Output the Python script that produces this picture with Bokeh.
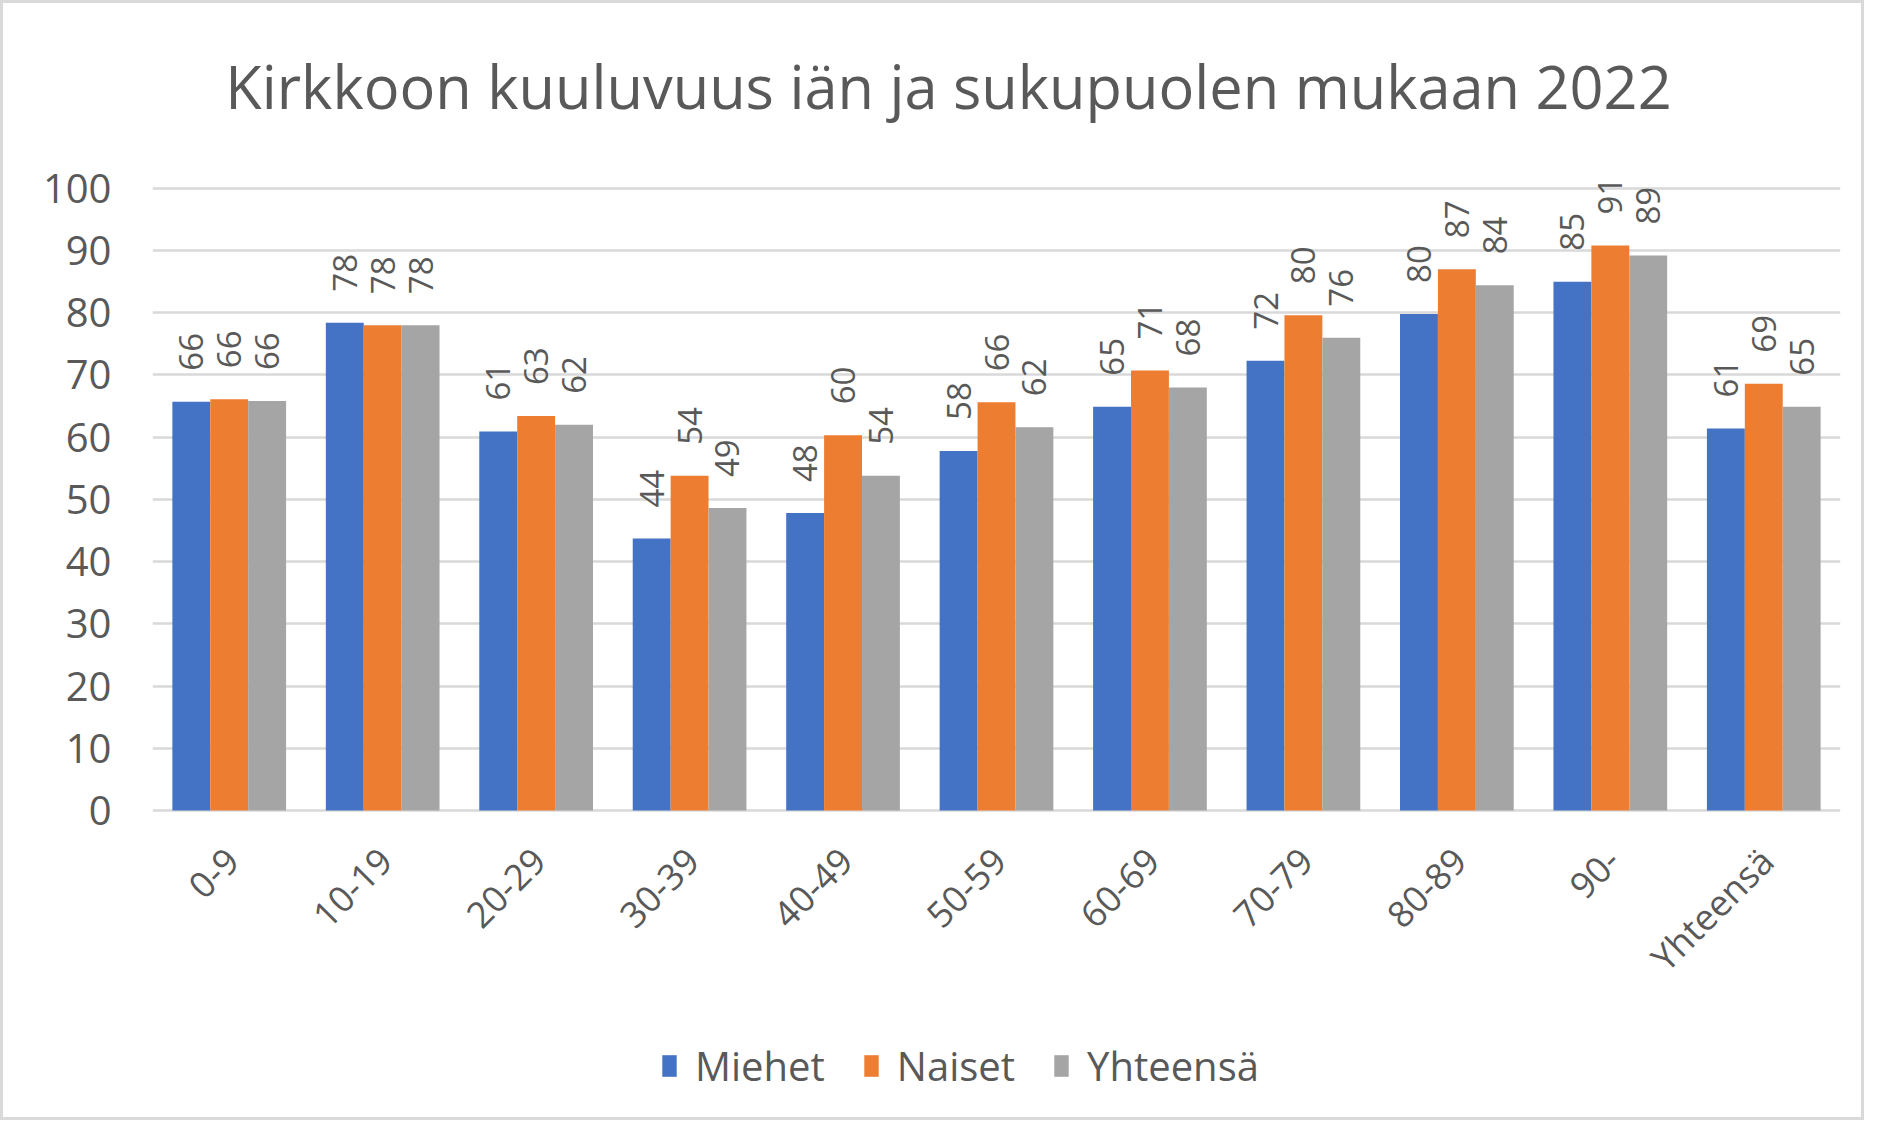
from math import pi
from bokeh.plotting import figure
from bokeh.models import (ColumnDataSource, FactorRange, Range1d, FixedTicker,
                          Label, Legend, LegendItem)
from bokeh.transform import dodge
from bokeh.core.properties import value
from bokeh.embed import file_html
from bokeh.resources import INLINE

# ---- data ----
categories = ["0-9", "10-19", "20-29", "30-39", "40-49", "50-59",
              "60-69", "70-79", "80-89", "90-", "Yhteensä"]
miehet = [65.7, 78.4, 60.9, 43.7, 47.8, 57.8, 64.9, 72.3, 79.8, 85.0, 61.4]
naiset = [66.1, 78.0, 63.4, 53.8, 60.3, 65.6, 70.7, 79.6, 87.0, 90.8, 68.6]
yhteensa = [65.8, 78.0, 62.0, 48.6, 53.8, 61.6, 68.0, 76.0, 84.4, 89.2, 64.9]
series_names = ["Miehet", "Naiset", "Yhteensä"]
y_ticks = [0, 10, 20, 30, 40, 50, 60, 70, 80, 90, 100]
title_text = "Kirkkoon kuuluvuus iän ja sukupuolen mukaan 2022"

colors = ["#4472C4", "#ED7D31", "#A5A5A5"]
TEXT = "#595959"
GRID = "#D9D9D9"
FONT = "Open Sans"

src = ColumnDataSource(dict(
    x=categories,
    m=miehet, n=naiset, t=yhteensa,
    m_lab=[str(round(v)) for v in miehet],
    n_lab=[str(round(v)) for v in naiset],
    t_lab=[str(round(v)) for v in yhteensa],
))

W, H = 1864, 1120
LEFT, RIGHT = 149, 27
p = figure(x_range=FactorRange(factors=categories, range_padding=0),
           y_range=Range1d(-50.3, 129.7),
           width=W, height=H, output_backend="svg",
           toolbar_location=None,
           min_border_left=LEFT, min_border_right=RIGHT,
           min_border_top=0, min_border_bottom=0)
p.outline_line_color = None
p.background_fill_color = "white"
p.border_fill_color = "white"

bw = 0.247
offsets = [-bw, 0.0, bw]
renderers = []
for col, lab, off, c in zip(["m", "n", "t"], ["m_lab", "n_lab", "t_lab"], offsets, colors):
    r = p.vbar(x=dodge("x", off, range=p.x_range), top=col, width=bw,
               source=src, fill_color=c, line_color=None)
    renderers.append(r)
    p.text(x=dodge("x", off, range=p.x_range), y=col, text=lab, source=src,
           angle=pi / 2, text_align="left", text_baseline="middle",
           y_offset=-31, text_font=value(FONT), text_font_size="33px",
           text_color=TEXT)

# grid (the 0 line doubles as the category axis line)
p.xgrid.grid_line_color = None
p.ygrid.ticker = FixedTicker(ticks=y_ticks)
p.ygrid.grid_line_color = GRID
p.ygrid.grid_line_width = 2.5

# y axis
p.yaxis.ticker = FixedTicker(ticks=y_ticks)
p.yaxis.axis_line_color = None
p.yaxis.major_tick_line_color = None
p.yaxis.minor_tick_line_color = None
p.yaxis.major_label_standoff = 35
p.yaxis.major_label_text_font = FONT
p.yaxis.major_label_text_font_size = "40px"
p.yaxis.major_label_text_color = TEXT

# x axis: category labels drawn through the categorical scale
p.xaxis.visible = False
p.text(x="x", y=0, text="x", source=src, angle=pi / 4,
       text_align="right", text_baseline="middle",
       x_offset=3, y_offset=44,
       text_font=value(FONT), text_font_size="36px", text_color=TEXT)

# title
p.add_layout(Label(x=796, y=1038, x_units="screen", y_units="screen",
                   text=title_text, text_align="center", text_baseline="middle",
                   text_font=FONT, text_font_size="59.5px", text_color=TEXT))

# legend
legend = Legend(items=[LegendItem(label=n, renderers=[r]) for n, r in zip(series_names, renderers)],
                orientation="horizontal", location=(508, 30),
                glyph_width=18, glyph_height=27, label_standoff=17, spacing=37,
                padding=0, margin=0, border_line_color=None,
                background_fill_alpha=0,
                label_text_font=FONT, label_text_font_size="40px",
                label_text_color=TEXT)
p.add_layout(legend, "center")

p.styles = {"border": "3px solid #D9D9D9", "box-sizing": "border-box"}

open("out.html", "w").write(file_html(p, INLINE))
